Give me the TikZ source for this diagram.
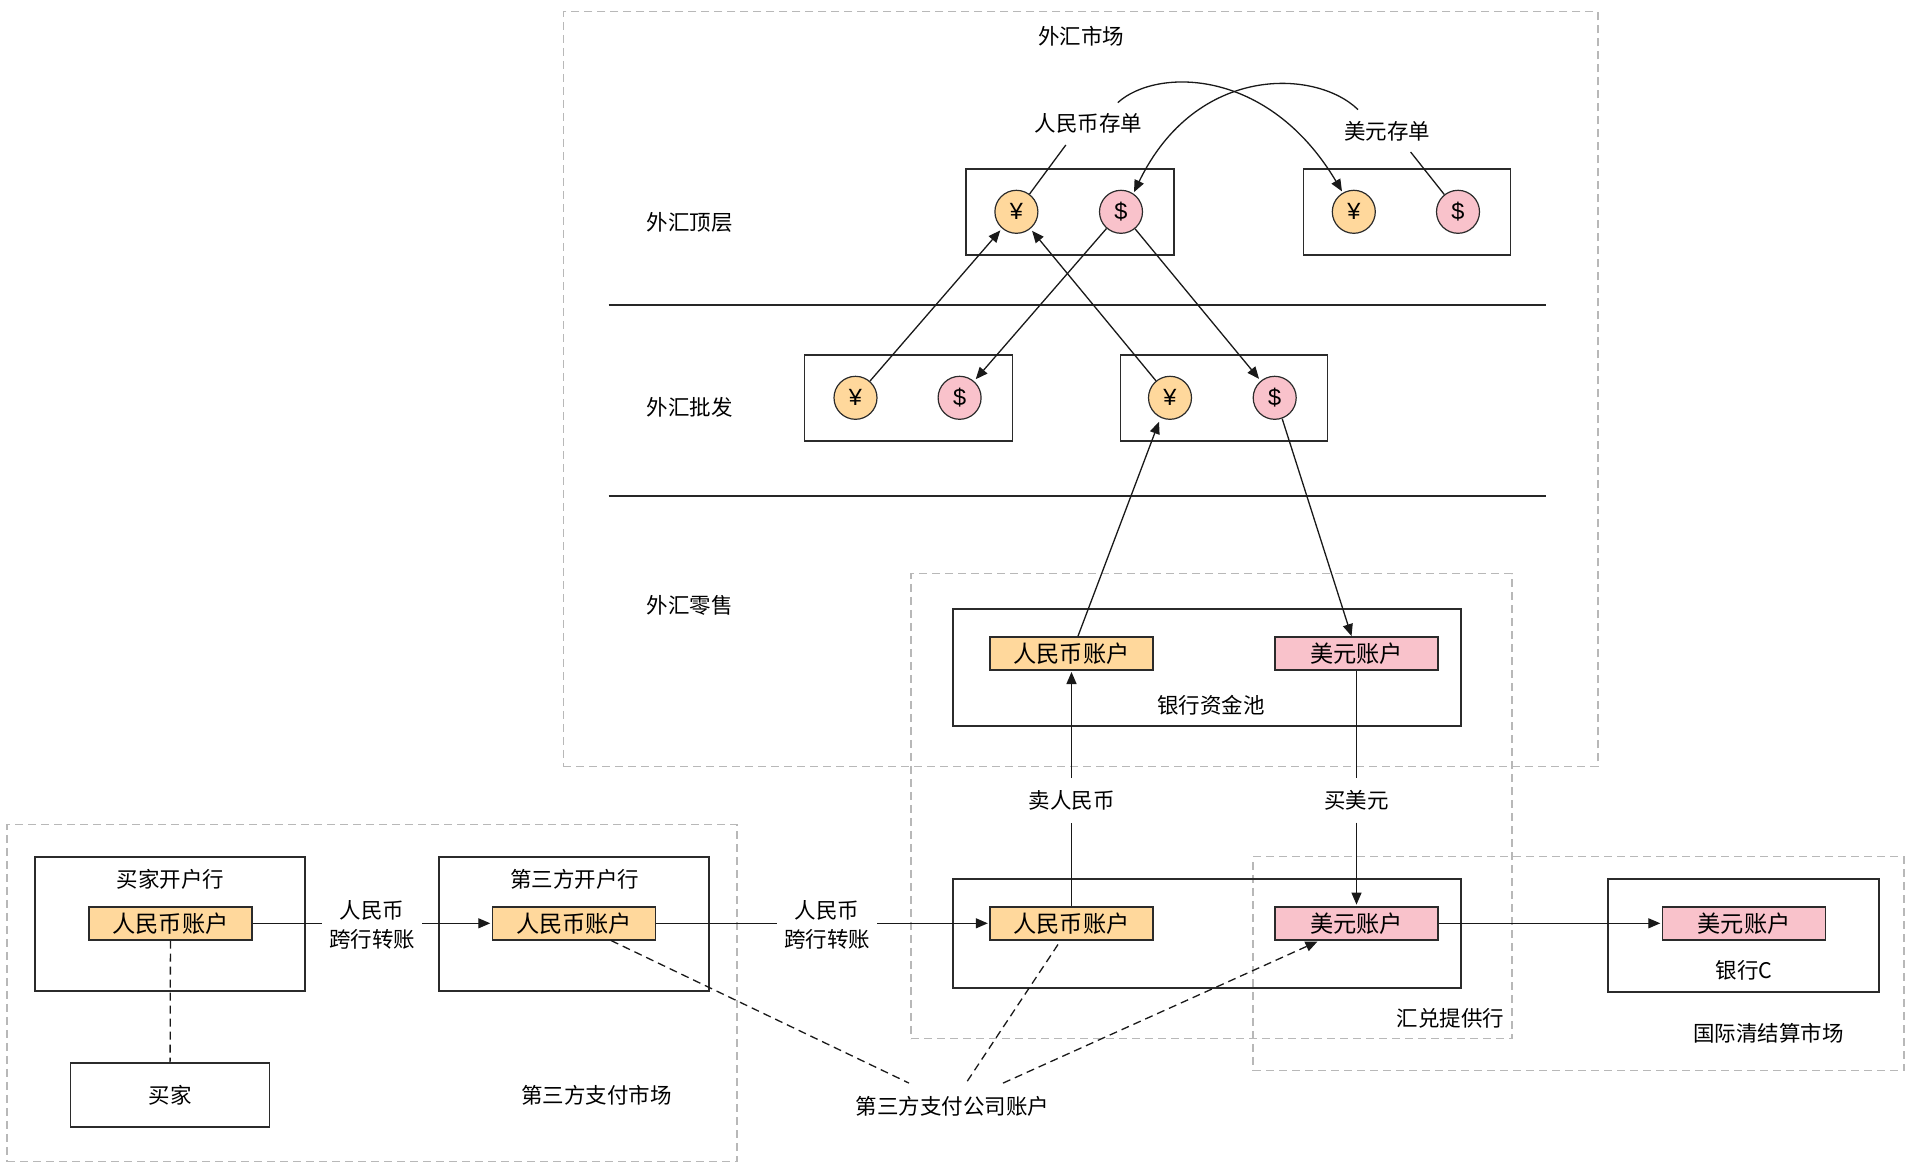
\documentclass[tikz,border=0pt]{standalone}
\usepackage{fontspec}
\setmainfont{Noto Sans CJK SC}
\newfontfamily\coinfont{Liberation Sans}
\usetikzlibrary{arrows.meta}
\definecolor{cnyfill}{HTML}{FFD89C}
\definecolor{usdfill}{HTML}{F9C2CB}
\definecolor{edge}{HTML}{2B2B2B}
\definecolor{zone}{HTML}{B8B8B8}
\tikzset{
  x=1pt,y=-1pt,
  txt/.style={font=\fontsize{21.5}{29}\selectfont,inner sep=0pt,align=center,text=black},
  lab/.style={txt,fill=white,minimum height=44pt},
  zonebox/.style={draw=zone,line width=1.1pt,dash pattern=on 8pt off 5pt,inner sep=0pt},
  boxx/.style={draw=edge,line width=1.4pt,inner sep=0pt,fill=none},
  acct/.style={draw=edge,line width=1.4pt,inner sep=0pt,minimum width=163pt,minimum height=33pt,font=\fontsize{23.2}{26}\selectfont,text=black},
  cny/.style={acct,fill=cnyfill},
  usd/.style={acct,fill=usdfill},
  coin/.style={circle,draw=edge,line width=1.2pt,inner sep=0pt,minimum size=43pt,font=\coinfont\fontsize{23.5}{26}\selectfont,text=black},
  coiny/.style={coin,fill=cnyfill},
  coinu/.style={coin,fill=usdfill},
  lnk/.style={draw=black!90,line width=1.3pt},
  arr/.style={lnk,-{Triangle[length=12pt,width=10pt]},shorten >=1.5pt},
  dsh/.style={lnk,dash pattern=on 8pt off 5pt},
  sep/.style={draw=black!85,line width=1.4pt}
}
\begin{document}
\begin{tikzpicture}
\useasboundingbox (0,-0.8) rectangle (1920,1172.2);
% zones
\node[zonebox,minimum width=1034.5pt,minimum height=755pt] (market) at (1080.7,388.5) {};
\node[zonebox,minimum width=601pt,minimum height=465pt] (provider) at (1211.5,805.5) {};
\node[zonebox,minimum width=651pt,minimum height=214pt] (intl) at (1578.5,963) {};
\node[zonebox,minimum width=730pt,minimum height=337pt] (third) at (372,992.5) {};
% separators
\coordinate (s1a) at (608.7,304); \coordinate (s1b) at (1546,304);
\coordinate (s2a) at (608.7,495); \coordinate (s2b) at (1546,495);
\draw[sep] (s1a) -- (s1b);
\draw[sep] (s2a) -- (s2b);
% boxes
\node[boxx,minimum width=208pt,minimum height=86pt] (tl) at (1069.8,211) {};
\node[boxx,minimum width=207pt,minimum height=86pt] (tr) at (1407.2,211) {};
\node[boxx,minimum width=208pt,minimum height=86pt] (wl) at (908.5,397) {};
\node[boxx,minimum width=207pt,minimum height=86pt] (wr) at (1224,397) {};
\node[boxx,minimum width=508pt,minimum height=117pt] (pool) at (1207,666.5) {};
\node[boxx,minimum width=508pt,minimum height=109pt] (fx) at (1207,932.5) {};
\node[boxx,minimum width=271pt,minimum height=113pt] (bankc) at (1743.5,934.5) {};
\node[boxx,minimum width=270pt,minimum height=134pt] (bb) at (170,923) {};
\node[boxx,minimum width=270pt,minimum height=134pt] (tb) at (574,923) {};
\node[boxx,minimum width=199pt,minimum height=64pt,txt] (buyer) at (170,1094) {买家};
% coins
\node[coiny] (y1) at (1016.4,211) {¥};
\node[coinu] (u1) at (1121,211) {\$};
\node[coiny] (y2) at (1353.8,211) {¥};
\node[coinu] (u2) at (1458,211) {\$};
\node[coiny] (y3) at (855.5,397) {¥};
\node[coinu] (u3) at (959.6,397) {\$};
\node[coiny] (y4) at (1170,397) {¥};
\node[coinu] (u4) at (1274.7,397) {\$};
% accounts
\node[cny] (a1) at (170.5,922.5) {人民币账户};
\node[cny] (a2) at (574,922.5) {人民币账户};
\node[cny] (a3) at (1071.5,922.5) {人民币账户};
\node[usd] (a4) at (1356.5,922.5) {美元账户};
\node[usd] (a5) at (1744,922.5) {美元账户};
\node[cny] (p1) at (1071.5,652.5) {人民币账户};
\node[usd] (p2) at (1356.5,652.5) {美元账户};
% connector labels
\node[lab,minimum width=107pt] (lcd) at (1088.4,123) {人民币存单};
\node[lab,minimum width=85pt] (lud) at (1387,130) {美元存单};
\node[lab,minimum width=100pt] (x1) at (372,924) {人民币\\跨行转账};
\node[lab,minimum width=100pt] (x2) at (827,924) {人民币\\跨行转账};
\node[lab,minimum width=85pt] (sell) at (1071.5,799.5) {卖人民币};
\node[lab,minimum width=64pt] (buy) at (1356.5,799.5) {买美元};
\node[lab,minimum width=191pt,minimum height=46pt] (tpa) at (952.5,1105.5) {第三方支付公司账户};
% plain labels
\node[txt] (t1) at (1081,35) {外汇市场};
\node[txt] (t2) at (689.5,221.5) {外汇顶层};
\node[txt] (t3) at (689.5,407) {外汇批发};
\node[txt] (t4) at (689.5,604.5) {外汇零售};
\node[txt] (t5) at (1211,704.5) {银行资金池};
\node[txt] (t6) at (1450.5,1017.5) {汇兑提供行};
\node[txt] (t7) at (1744,969.5) {银行C};
\node[txt] (t8) at (1768.5,1032) {国际清结算市场};
\node[txt] (t9) at (170.5,878.5) {买家开户行};
\node[txt] (t10) at (574.5,878.5) {第三方开户行};
\node[txt] (t11) at (596.5,1094.5) {第三方支付市场};
% connectors: certificates
\draw[lnk] (y1) -- ([xshift=-22.6pt,yshift=1pt]lcd.south);
\draw[arr] ([xshift=29.4pt,yshift=-1pt]lcd.north) .. controls (1156,67) and (1268,66) .. (y2.120);
\draw[lnk] (u2) -- ([xshift=23.6pt,yshift=1pt]lud.south);
\draw[arr] ([xshift=-29pt,yshift=-1pt]lud.north) .. controls (1316,68) and (1196,63) .. (u1.56);
% between layers
\draw[arr,shorten >=2.5pt] (y3) -- (y1);
\draw[arr,shorten >=2.5pt] (y4) -- (y1);
\draw[arr,shorten >=2.5pt] (u1) -- (u3);
\draw[arr,shorten >=2.5pt] (u1) -- (u4);
\draw[arr,shorten >=0pt] ([xshift=6.5pt]p1.north) -- ([xshift=-11pt,yshift=-24pt]y4.center);
\draw[arr,shorten >=0pt] ([xshift=7.5pt,yshift=-21pt]u4.center) -- ([xshift=-5pt]p2.north);
% retail
\draw[lnk] (a3) -- (sell);
\draw[arr] (sell) -- (p1);
\draw[lnk] (p2) -- (buy);
\draw[arr] (buy) -- (a4);
% transfers
\draw[lnk] (a1.east) -- (x1.west |- a1.east);
\draw[arr] (x1.east |- a2.west) -- (a2.west);
\draw[lnk] (a2.east) -- (x2.west |- a2.east);
\draw[arr] (x2.east |- a3.west) -- (a3.west);
\draw[arr] (a4) -- (a5);
% dashed
\draw[dsh] (a1) -- (buyer);
\draw[dsh] ([xshift=37pt]a2.south) -- ([xshift=-43.5pt]tpa.north);
\draw[dsh] ([xshift=-13.5pt,yshift=-4pt]a3.south) -- ([xshift=13.5pt]tpa.north);
\draw[dsh,-{Triangle[length=12pt,width=10pt]},shorten >=0pt] ([xshift=50.5pt]tpa.north) -- ([xshift=-39pt,yshift=-1pt]a4.south);
\end{tikzpicture}
\end{document}
